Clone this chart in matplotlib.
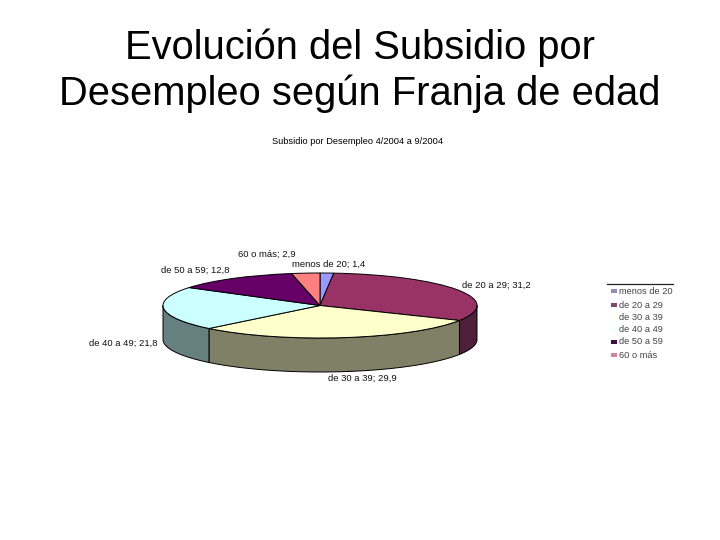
import numpy as np
import matplotlib
matplotlib.use('Agg')
import matplotlib.pyplot as plt

plt.rcParams['font.family'] = ['Liberation Sans', 'DejaVu Sans']

titulo = 'Evolución del Subsidio por\nDesempleo según Franja de edad'
subtitulo = 'Subsidio por Desempleo 4/2004 a 9/2004'

franjas = ['menos de 20', 'de 20 a 29', 'de 30 a 39', 'de 40 a 49', 'de 50 a 59', '60 o más']
valores = [1.4, 31.2, 29.9, 21.8, 12.8, 2.9]
etiquetas = ['menos de 20; 1,4', 'de 20 a 29; 31,2', 'de 30 a 39; 29,9',
             'de 40 a 49; 21,8', 'de 50 a 59; 12,8', '60 o más; 2,9']

colores = ['#9999FF', '#993366', '#FFFFCC', '#CCFFFF', '#660066', '#FF8080']
colores_lado = ['#4D4D80', '#4D1F38', '#808066', '#668080', '#330033', '#804040']
colores_leyenda = ['#9090B8', '#80486A', '#FFFFF0', '#F0FFFF', '#401040', '#D08898']

# posiciones de las etiquetas en pixeles (x izquierda, y centro)
pos_etiquetas = [(292, 264), (462, 285), (328, 378), (89, 343), (161, 270), (238, 254)]
pos_leyenda = [291, 305, 317, 329, 342, 355]

W, H = 720, 540
profundidad = 34 / 32.5


def texto(x, y, s, **kw):
    fig.text(x / W, 1 - y / H, s, va='center', **kw)


fig = plt.figure(figsize=(7.2, 5.4), dpi=100)

fig.text(0.5, 1 - 70.5 / H, titulo, ha='center', va='center', fontsize=28.7, linespacing=1.26, color='black')
texto(357, 142, subtitulo, ha='center', fontsize=6.7)

ax = fig.add_axes([163 / W, 1 - 372 / H, 314 / W, 99 / H])

# cara superior de la torta
ax.pie(valores, colors=colores, startangle=90, counterclock=False, radius=1,
       wedgeprops={'edgecolor': 'black', 'linewidth': 0.7})

# lado de la torta, solo la mitad de adelante
acum = 90 - np.cumsum([0] + valores) * 3.6
for i in range(len(valores)):
    a1, a2 = acum[i], acum[i + 1]
    # pasar a rango donde el frente es -180..0
    ini = max(a2, -180)
    fin = min(a1, 0)
    if ini >= fin:
        continue
    t = np.radians(np.linspace(fin, ini, 60))
    xs = np.cos(t)
    ys = np.sin(t)
    ax.fill(np.r_[xs, xs[::-1]], np.r_[ys, ys[::-1] - profundidad],
            facecolor=colores_lado[i], edgecolor='black', linewidth=0.7, zorder=0)

ax.set_aspect('auto')
ax.set_xlim(-1, 1)
ax.set_ylim(1 - 99 / 32.5, 1)
ax.axis('off')
for p in ax.patches:
    p.set_clip_on(False)

for (x, y), s in zip(pos_etiquetas, etiquetas):
    texto(x, y, s, fontsize=6.8, color='#111111')

# leyenda
ax_ley = fig.add_axes([0, 0, 1, 1], facecolor='none')
ax_ley.set_xlim(0, W)
ax_ley.set_ylim(H, 0)
ax_ley.axis('off')
ax_ley.plot([607, 673], [284, 284], color='#222222', lw=0.9)
for y, nombre, c in zip(pos_leyenda, franjas, colores_leyenda):
    ax_ley.add_patch(plt.Rectangle((611, y - 2), 6, 4, facecolor=c, edgecolor='none'))
    texto(619, y, nombre, fontsize=6.7, color='#444444')

fig.savefig('out.png', dpi=100)
